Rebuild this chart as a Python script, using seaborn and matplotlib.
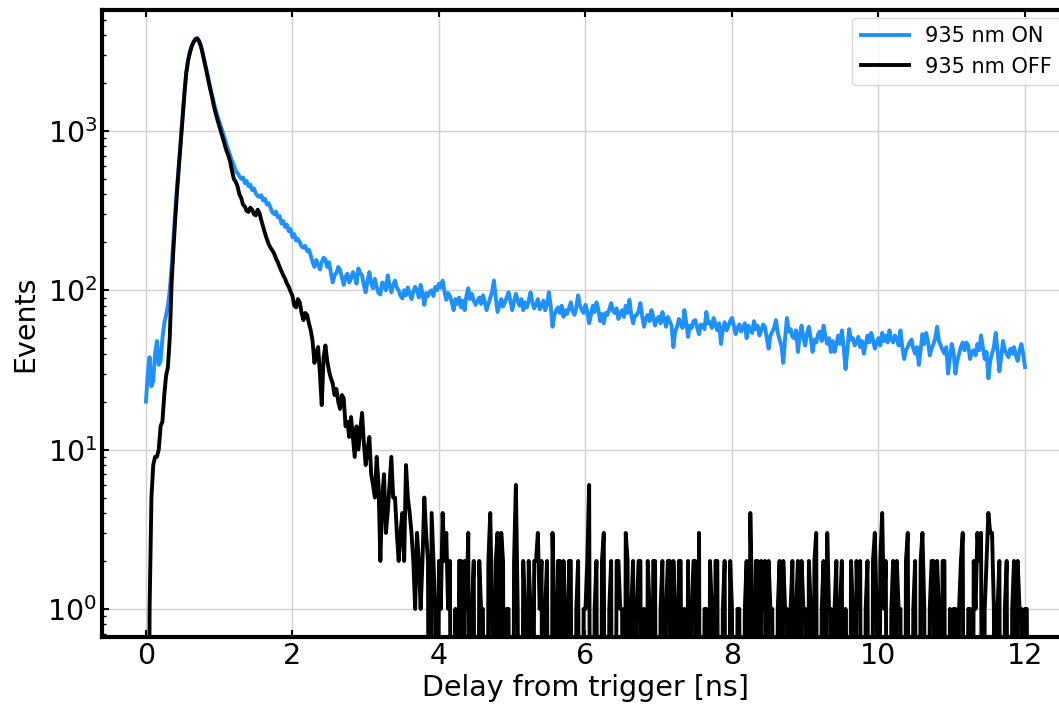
import numpy as np
import pandas as pd
import matplotlib
matplotlib.use("Agg")
import matplotlib.pyplot as plt
import seaborn as sns

# ---------------- data ----------------
BIN_WIDTH = 0.025  # ns, histogram bin width
legend_labels = ["935 nm ON", "935 nm OFF"]
x_ticks = [0, 2, 4, 6, 8, 10, 12]

# 935 nm ON, counts per bin starting at 0 ns
counts_on = [
    # 0.000 - 1.975 ns
    20, 30, 38, 25, 27, 40, 48, 34, 36, 50,
    62, 70, 80, 100, 140, 210, 310, 450, 630, 880,
    1230, 1730, 2330, 2780, 3130, 3430, 3630, 3780, 3830, 3680,
    3430, 3080, 2740, 2440, 2150, 1900, 1700, 1520, 1360, 1250,
    1150, 1060, 980, 900, 820, 760, 700, 650, 610, 560,
    545, 520, 500, 510, 470, 485, 450, 460, 425, 435,
    405, 390, 385, 395, 366, 375, 345, 352, 330, 308,
    300, 312, 287, 292, 262, 272, 250, 258, 235, 242,
    # 2.000 - 12.000 ns
    215, 225, 205, 210, 200, 188, 185, 190, 176, 180,
    165, 150, 140, 155, 145, 135, 150, 160, 156, 140,
    150, 128, 112, 125, 128, 140, 134, 120, 108, 122,
    127, 112, 118, 130, 124, 110, 137, 128, 124, 108,
    97, 115, 130, 110, 103, 118, 105, 96, 94, 112,
    110, 100, 124, 108, 97, 108, 115, 104, 100, 92,
    89, 100, 93, 104, 95, 88, 98, 105, 100, 90,
    108, 95, 81, 96, 92, 98, 100, 92, 105, 100,
    110, 104, 115, 98, 87, 96, 92, 84, 75, 88,
    82, 90, 78, 86, 75, 92, 103, 88, 95, 86,
    81, 85, 90, 82, 93, 85, 75, 82, 90, 98,
    115, 90, 73, 80, 88, 79, 84, 90, 97, 86,
    75, 85, 95, 86, 80, 88, 75, 84, 78, 86,
    97, 84, 77, 82, 88, 76, 80, 86, 75, 82,
    97, 80, 59, 70, 75, 78, 72, 80, 68, 75,
    71, 77, 84, 74, 70, 78, 93, 80, 75, 72,
    81, 74, 62, 70, 80, 73, 84, 76, 64, 71,
    62, 72, 70, 76, 83, 74, 72, 77, 66, 71,
    75, 68, 80, 72, 87, 70, 62, 69, 70, 74,
    83, 68, 59, 67, 70, 64, 75, 68, 60, 66,
    68, 62, 73, 66, 59, 68, 64, 60, 44, 55,
    59, 66, 62, 58, 75, 63, 51, 60, 58, 64,
    65, 58, 53, 61, 60, 57, 73, 62, 63, 58,
    67, 61, 56, 62, 46, 57, 63, 56, 59, 64,
    67, 60, 53, 58, 61, 55, 58, 62, 50, 60,
    57, 54, 64, 57, 60, 52, 56, 61, 59, 50,
    43, 52, 55, 58, 65, 54, 49, 45, 35, 50,
    67, 55, 57, 51, 50, 56, 41, 52, 60, 50,
    45, 54, 59, 50, 41, 49, 47, 53, 55, 48,
    60, 52, 46, 50, 41, 48, 41, 46, 52, 46,
    56, 44, 32, 42, 57, 49, 50, 45, 47, 51,
    44, 48, 40, 46, 52, 47, 54, 49, 43, 47,
    50, 45, 54, 48, 52, 47, 56, 49, 47, 52,
    50, 45, 56, 44, 37, 42, 44, 47, 49, 43,
    40, 44, 34, 42, 53, 46, 54, 48, 39, 43,
    46, 50, 59, 48, 45, 42, 40, 44, 30, 38,
    46, 41, 30, 36, 40, 44, 47, 42, 47, 45,
    37, 41, 42, 39, 46, 42, 52, 44, 37, 41,
    28, 36, 40, 44, 54, 42, 31, 38, 48, 42,
    40, 38, 43, 40, 44, 39, 36, 42, 46, 40,
    33,
]

# 935 nm OFF, counts per bin starting at 0 ns
counts_off = [
    # 0.000 - 2.000 ns
    0, 0, 1, 5, 8, 9, 9, 10, 14, 15,
    22, 29, 33, 50, 110, 180, 280, 420, 600, 850,
    1200, 1700, 2300, 2750, 3100, 3400, 3600, 3750, 3800, 3650,
    3400, 3050, 2700, 2400, 2100, 1850, 1650, 1450, 1300, 1180,
    1080, 990, 900, 820, 750, 700, 640, 560, 500, 480,
    450, 400, 380, 345, 335, 315, 310, 330, 320, 300,
    295, 320, 305, 275, 250, 228, 210, 195, 185, 178,
    170, 158, 150, 140, 132, 124, 118, 110, 105, 98,
    92,
    # 2.025 - 3.000 ns
    80, 78, 88, 84, 72, 65, 72, 70, 62, 56,
    48, 35, 40, 44, 30, 19, 38, 45, 36, 31,
    28, 26, 22, 24, 20, 18, 22, 21, 14, 15,
    12, 16, 12, 9, 14, 10, 13, 17, 11, 8,
    # 3.025 - 3.975 ns
    10, 12, 7, 6, 5, 9, 6, 2, 5, 7,
    3, 4, 6, 9, 5, 5, 3, 2, 3, 4,
    2, 8, 5, 4, 3, 2, 1, 3, 2, 1,
    2, 5, 3, 2, 0, 4, 2, 1, 0,
    # 4.000 - 12.000 ns
    2, 1, 4, 2, 3, 1, 2, 0, 0, 1,
    0, 2, 2, 0, 2, 1, 3, 0, 1, 2,
    0, 0, 2, 1, 1, 0, 0, 2, 4, 1,
    0, 2, 3, 0, 3, 2, 0, 1, 1, 0,
    0, 2, 6, 1, 0, 0, 2, 1, 0, 2,
    1, 0, 2, 2, 3, 1, 2, 0, 1, 2,
    0, 0, 3, 1, 0, 2, 2, 0, 2, 1,
    0, 2, 2, 0, 0, 1, 2, 0, 0, 1,
    1, 2, 6, 0, 0, 1, 2, 0, 0, 2,
    3, 0, 0, 1, 2, 0, 0, 2, 2, 1,
    1, 0, 3, 2, 0, 1, 2, 0, 1, 2,
    2, 0, 1, 0, 2, 1, 0, 2, 2, 0,
    0, 1, 2, 0, 1, 2, 2, 0, 2, 1,
    0, 2, 2, 0, 1, 0, 2, 0, 1, 2,
    2, 0, 3, 0, 0, 1, 1, 0, 2, 1,
    0, 2, 2, 0, 0, 1, 2, 0, 0, 2,
    1, 0, 0, 1, 1, 0, 0, 1, 2, 0,
    4, 1, 0, 2, 2, 0, 2, 1, 2, 0,
    2, 1, 1, 0, 0, 1, 2, 0, 2, 1,
    1, 0, 1, 2, 0, 1, 2, 0, 2, 1,
    1, 0, 2, 1, 0, 2, 3, 0, 0, 1,
    2, 0, 3, 1, 1, 0, 1, 2, 0, 1,
    2, 0, 1, 0, 0, 2, 1, 0, 2, 1,
    2, 0, 0, 1, 2, 0, 0, 2, 3, 1,
    0, 2, 4, 1, 2, 0, 0, 1, 2, 0,
    2, 1, 1, 0, 0, 2, 3, 0, 0, 1,
    2, 0, 0, 2, 3, 1, 0, 0, 1, 2,
    2, 0, 2, 1, 0, 2, 2, 0, 0, 1,
    0, 1, 1, 0, 1, 2, 3, 0, 0, 1,
    1, 0, 2, 1, 3, 2, 3, 0, 1, 2,
    4, 3, 3, 1, 0, 1, 2, 0, 0, 1,
    2, 0, 0, 1, 2, 0, 2, 1, 1, 0,
    1, 1, 0,
]

LOG_FLOOR = 1e-3  # empty bins are drawn down through the bottom of the log axis


def frame(counts, label):
    c = np.asarray(counts, dtype=float)
    return pd.DataFrame({
        "delay": np.arange(len(c)) * BIN_WIDTH,
        "events": np.where(c > 0, c, LOG_FLOOR),
        "run": label,
    })


df = pd.concat([frame(counts_on, legend_labels[0]),
                frame(counts_off, legend_labels[1])], ignore_index=True)

# ---------------- figure ----------------
plt.rcParams["font.family"] = ["DejaVu Sans"]
fig = plt.figure(figsize=(10.59, 7.04), dpi=100)
ax = fig.add_axes([0.0963, 0.0945, 0.9131, 0.8920])

sns.lineplot(data=df, x="delay", y="events", hue="run",
             palette={legend_labels[0]: "#1E90FF", legend_labels[1]: "black"},
             estimator=None, sort=False, linewidth=2.8, ax=ax)

ax.set_yscale("log")
ax.set_xlim(-0.6, 12.6)
ax.set_ylim(0.662, 5780)
ax.set_xticks(x_ticks)

ax.set_axisbelow(True)
ax.grid(True, which="major", color="#d0d0d0", linewidth=1.0)
ax.grid(False, which="minor")

for s in ax.spines.values():
    s.set_linewidth(3.0)
    s.set_color("black")

ax.tick_params(axis="both", which="major", direction="in", top=True, right=True,
               length=5, width=1.5, labelsize=20.5)
ax.tick_params(axis="y", which="minor", direction="in", right=True,
               length=3, width=1.0)

ax.set_xlabel("Delay from trigger [ns]", fontsize=20.5, labelpad=3)
ax.set_ylabel("Events", fontsize=20.5, labelpad=6)

leg = ax.legend(loc="upper right", fontsize=15, handlelength=2.3,
                borderaxespad=0.4, title=None)
for line in leg.get_lines():
    line.set_linewidth(2.8)

fig.savefig("out.png", dpi=100)
